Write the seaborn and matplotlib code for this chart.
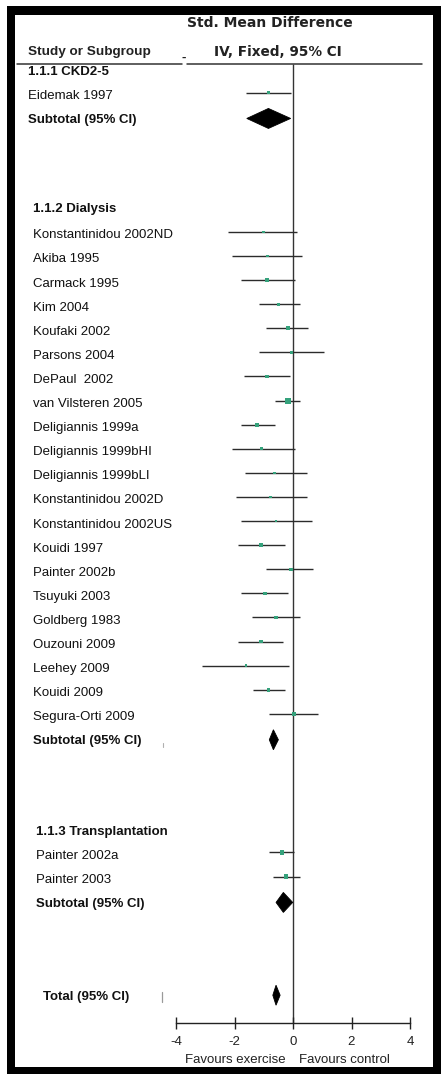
import numpy as np
import pandas as pd
import matplotlib
matplotlib.use("Agg")
import matplotlib.pyplot as plt
from matplotlib.patches import Polygon, Rectangle
from matplotlib.lines import Line2D
from matplotlib.transforms import blended_transform_factory
import seaborn as sns

# ---------------- data: standardised mean differences (IV, fixed, 95% CI) ----------------
ckd_studies = ["Eidemak 1997"]
ckd_smd = [-0.84]
ckd_lo = [-1.61]
ckd_hi = [-0.07]
ckd_weight = [2.0]
ckd_subtotal = (-0.84, -1.58, -0.08)

dial_studies = [
    "Konstantinidou 2002ND", "Akiba 1995", "Carmack 1995", "Kim 2004",
    "Koufaki 2002", "Parsons 2004", "DePaul  2002", "van Vilsteren 2005",
    "Deligiannis 1999a", "Deligiannis 1999bHI", "Deligiannis 1999bLI",
    "Konstantinidou 2002D", "Konstantinidou 2002US", "Kouidi 1997",
    "Painter 2002b", "Tsuyuki 2003", "Goldberg 1983", "Ouzouni 2009",
    "Leehey 2009", "Kouidi 2009", "Segura-Orti 2009",
]
dial_smd = [-1.02, -0.88, -0.88, -0.50, -0.18, -0.05, -0.88, -0.18, -1.22, -1.07, -0.62,
            -0.76, -0.58, -1.10, -0.07, -0.96, -0.58, -1.10, -1.61, -0.84, 0.03]
dial_lo = [-2.21, -2.10, -1.78, -1.16, -0.92, -1.17, -1.66, -0.62, -1.78, -2.10, -1.64,
           -1.95, -1.79, -1.89, -0.92, -1.78, -1.41, -1.87, -3.12, -1.38, -0.81]
dial_hi = [0.13, 0.30, 0.07, 0.24, 0.50, 1.06, -0.10, 0.24, -0.62, 0.07, 0.47,
           0.47, 0.64, -0.27, 0.69, -0.16, 0.24, -0.33, -0.13, -0.27, 0.86]
dial_weight = [2.0, 2.0, 3.5, 2.5, 3.5, 2.0, 3.5, 9.0, 3.5, 2.0, 2.0,
               2.0, 2.0, 3.0, 3.0, 3.0, 3.0, 3.0, 1.5, 3.5, 3.0]
dial_subtotal = (-0.67, -0.81, -0.50)

tx_studies = ["Painter 2002a", "Painter 2003"]
tx_smd = [-0.39, -0.24]
tx_lo = [-0.81, -0.67]
tx_hi = [0.03, 0.24]
tx_weight = [4.5, 4.5]
tx_subtotal = (-0.33, -0.58, -0.01)

overall_total = (-0.58, -0.69, -0.44)

x_ticks = [-4, -2, 0, 2, 4]
favours_left = "Favours exercise"
favours_right = "Favours control"

# ---------------- page geometry (pixels) ----------------
W, H, DPI = 441, 1074, 100
ZERO_PX, PX_PER_UNIT = 293.0, 29.25          # horizontal effect-size scale
PITCH, FIRST_ROW = 24.1, 72.0                # vertical row spacing
MARK_SHIFT = -3.5                            # marks sit slightly above the text line
DIAMOND_HALF = 10.0

sns.set_theme(style="white")
plt.rcParams["font.family"] = ["Liberation Sans", "DejaVu Sans"]
FS = 9.5

fig = plt.figure(figsize=(W / DPI, H / DPI), dpi=DPI)
fig.patch.set_facecolor("white")
ax = fig.add_axes([0, 0, 1, 1])
ax.set_xlim(-ZERO_PX / PX_PER_UNIT, (W - ZERO_PX) / PX_PER_UNIT)
ax.set_ylim(H, 0)
ax.axis("off")

fx = lambda px: px / W                       # figure fraction from pixel x
txt = blended_transform_factory(fig.transFigure, ax.transData)

# ---------------- row layout ----------------
sections = [
    ("1.1.1 CKD2-5", ckd_studies, ckd_smd, ckd_lo, ckd_hi, ckd_weight, ckd_subtotal, 28.5, 0.0),
    ("1.1.2 Dialysis", dial_studies, dial_smd, dial_lo, dial_hi, dial_weight, dial_subtotal, 33.0, 3.68),
    ("1.1.3 Transplantation", tx_studies, tx_smd, tx_lo, tx_hi, tx_weight, tx_subtotal, 35.5, 3.75),
]

y = FIRST_ROW
study_rows = []
diamonds = []
for k, (title, names, smd, lo, hi, wt, sub, xpx, gap) in enumerate(sections):
    if k > 0:
        y += PITCH * gap
    ax.text(fx(xpx), y, title, transform=txt, fontsize=FS, fontweight="bold",
            va="center", ha="left", color="#111111")
    for i, name in enumerate(names):
        y += PITCH * (1.1 if (k == 1 and i == 0) else 1.0)
        ax.text(fx(xpx), y, name, transform=txt, fontsize=FS, va="center",
                ha="left", color="#111111")
        study_rows.append(dict(study=name, smd=smd[i], lo=lo[i], hi=hi[i],
                               weight=wt[i], row=y + MARK_SHIFT))
    y += PITCH
    ax.text(fx(xpx), y, "Subtotal (95% CI)", transform=txt, fontsize=FS,
            fontweight="bold", va="center", ha="left", color="#111111")
    diamonds.append((sub, y + MARK_SHIFT * 0.5))

y += PITCH * 3.85
ax.text(fx(43), y, "Total (95% CI)", transform=txt, fontsize=FS, fontweight="bold",
        va="center", ha="left", color="#111111")
diamonds.append((overall_total, y + MARK_SHIFT * 0.5))
total_row = y

df = pd.DataFrame(study_rows)

# ---------------- reference line and header rule ----------------
AXIS_Y = 1022.7
ax.vlines(0, 64.3, AXIS_Y, color="#333333", lw=1.0)
for a, b in [(16.7, 182.0), (187.0, 421.7)]:
    ax.add_line(Line2D([fx(a), fx(b)], [64.3, 64.3], transform=txt,
                       color="#333333", lw=1.1))

fig.text(fx(270), 1 - 23.3 / H, "Std. Mean Difference", fontsize=FS + 0.5,
         fontweight="bold", family=["DejaVu Sans"], ha="center", va="center", color="#222222")
fig.text(fx(28.5), 1 - 51.7 / H, "Study or Subgroup", fontsize=FS + 0.2,
         fontweight="bold", ha="left", va="center", color="#222222")
fig.text(fx(184), 1 - 58 / H, "-", fontsize=FS, fontweight="bold",
         ha="center", va="center", color="#222222")
fig.text(fx(277.5), 1 - 51.7 / H, "IV, Fixed, 95% CI", fontsize=FS + 0.3,
         fontweight="bold", family=["DejaVu Sans"], ha="center", va="center", color="#222222")

# ---------------- confidence intervals and point estimates ----------------
ax.hlines(df["row"], df["lo"], df["hi"], color="#2b2b2b", lw=1.0, zorder=2)
sns.scatterplot(data=df, x="smd", y="row", size="weight", sizes=(3, 18),
                marker="s", color="#35a27c", edgecolor="none", legend=False,
                ax=ax, zorder=3)
ax.set_xlim(-ZERO_PX / PX_PER_UNIT, (W - ZERO_PX) / PX_PER_UNIT)
ax.set_ylim(H, 0)
ax.axis("off")

for (est, lo, hi), yc in diamonds:
    ax.add_patch(Polygon([[lo, yc], [est, yc - DIAMOND_HALF], [hi, yc],
                          [est, yc + DIAMOND_HALF]], closed=True,
                         facecolor="black", edgecolor="black", lw=0.6, zorder=4))

# small stray marks in the label column
ax.add_line(Line2D([fx(162), fx(162)], [total_row - 5, total_row + 5], transform=txt,
                   color="#9a9a9a", lw=0.9))
ax.add_line(Line2D([fx(162.5), fx(162.5)], [diamonds[1][1] + 3, diamonds[1][1] + 7],
                   transform=txt, color="#b0b0b0", lw=0.8))

# ---------------- effect-size scale ----------------
sax = fig.add_axes([fx(176), 1 - AXIS_Y / H, 234 / W, 1e-4])
sax.set_facecolor("none")
sax.set_xlim(x_ticks[0], x_ticks[-1])
for side in ("left", "right", "top"):
    sax.spines[side].set_visible(False)
sax.spines["bottom"].set_color("#222222")
sax.spines["bottom"].set_linewidth(1.0)
sax.set_yticks([])
sax.set_xticks(x_ticks)
sax.set_xticklabels([str(t) for t in x_ticks])
sax.tick_params(axis="x", direction="inout", length=8.5, width=1.0, color="#222222",
                labelsize=FS, pad=5, labelcolor="#222222", bottom=True)
sax.grid(False)

fig.text(fx(235), 1 - 1060 / H, favours_left, fontsize=FS, ha="center", va="center",
         color="#222222")
fig.text(fx(344), 1 - 1060 / H, favours_right, fontsize=FS, ha="center", va="center",
         color="#222222")

# ---------------- black frame ----------------
for (x0, y0, x1, y1) in [(6.5, 6.0, 441, 15.0), (6.5, 6.0, 15.0, 1074),
                         (433.0, 6.0, 441, 1074), (6.5, 1066.5, 441, 1074)]:
    fig.patches.append(Rectangle((x0 / W, 1 - y1 / H), (x1 - x0) / W, (y1 - y0) / H,
                                 transform=fig.transFigure, facecolor="black",
                                 edgecolor="none", zorder=10))

fig.savefig("out.png", dpi=DPI, facecolor="white")
